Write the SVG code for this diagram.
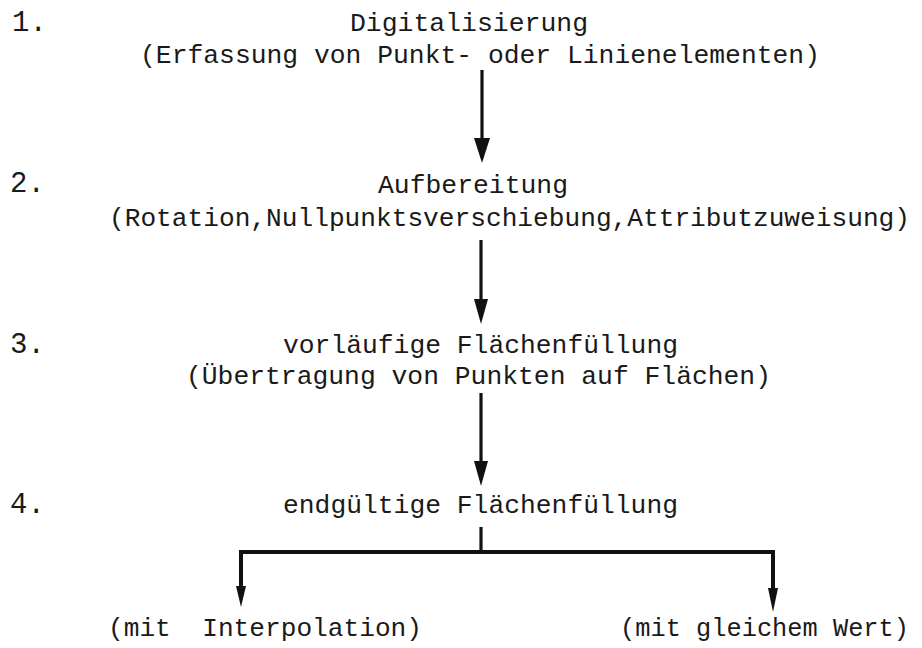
<svg xmlns="http://www.w3.org/2000/svg" width="922" height="648" viewBox="0 0 922 648">
<style>
  text { font-family: "Liberation Mono", "DejaVu Sans Mono", monospace; font-size: 26.2px; fill: #1a1a1a; }
  .num { font-size: 29px; }
  .sm { font-size: 25.4px; }
  .conn { stroke: #111; stroke-width: 3.2; fill: none; }
  .thick { stroke-width: 4; }
  .head { fill: #111; }
</style>
<rect width="922" height="648" fill="#ffffff"/>

<g id="connectors">
  <line class="conn" x1="482" y1="70" x2="482" y2="139"/>
  <path class="head" d="M474,138 L490,138 L482,163 Z"/>
  <line class="conn" x1="481" y1="240" x2="481" y2="300"/>
  <path class="head" d="M474,299 L488,299 L481,324 Z"/>
  <line class="conn" x1="481" y1="393" x2="481" y2="462"/>
  <path class="head" d="M474,461 L488,461 L481,486 Z"/>
  <line class="conn" x1="481" y1="527" x2="481" y2="552"/>
  <path class="conn thick" d="M241,588 L241,552 L773,552 L773,590"/>
  <path class="head" d="M236,586 L246,586 L241,607 Z"/>
  <path class="head" d="M768,588 L778,588 L773,612 Z"/>
</g>

<g id="step1">
  <text class="num" x="12" y="31">1.</text>
  <text x="350" y="31" textLength="238" lengthAdjust="spacingAndGlyphs">Digitalisierung</text>
  <text x="140" y="63" textLength="680" lengthAdjust="spacingAndGlyphs">(Erfassung von Punkt- oder Linienelementen)</text>
</g>
<g id="step2">
  <text class="num" x="10" y="192">2.</text>
  <text x="378" y="193" textLength="190" lengthAdjust="spacingAndGlyphs">Aufbereitung</text>
  <text x="109" y="226" textLength="801" lengthAdjust="spacingAndGlyphs">(Rotation,Nullpunktsverschiebung,Attributzuweisung)</text>
</g>
<g id="step3">
  <text class="num" x="10" y="353">3.</text>
  <text x="283" y="353" textLength="395" lengthAdjust="spacingAndGlyphs">vorläufige Flächenfüllung</text>
  <text x="186" y="384" textLength="585" lengthAdjust="spacingAndGlyphs">(Übertragung von Punkten auf Flächen)</text>
</g>
<g id="step4">
  <text class="num" x="10" y="513">4.</text>
  <text x="283" y="513" textLength="395" lengthAdjust="spacingAndGlyphs">endgültige Flächenfüllung</text>
</g>
<g id="branch-left">
  <text x="108" y="636" xml:space="preserve" textLength="314" lengthAdjust="spacingAndGlyphs">(mit  Interpolation)</text>
</g>
<g id="branch-right">
  <text class="sm" x="620" y="636" textLength="289" lengthAdjust="spacingAndGlyphs">(mit gleichem Wert)</text>
</g>
</svg>
